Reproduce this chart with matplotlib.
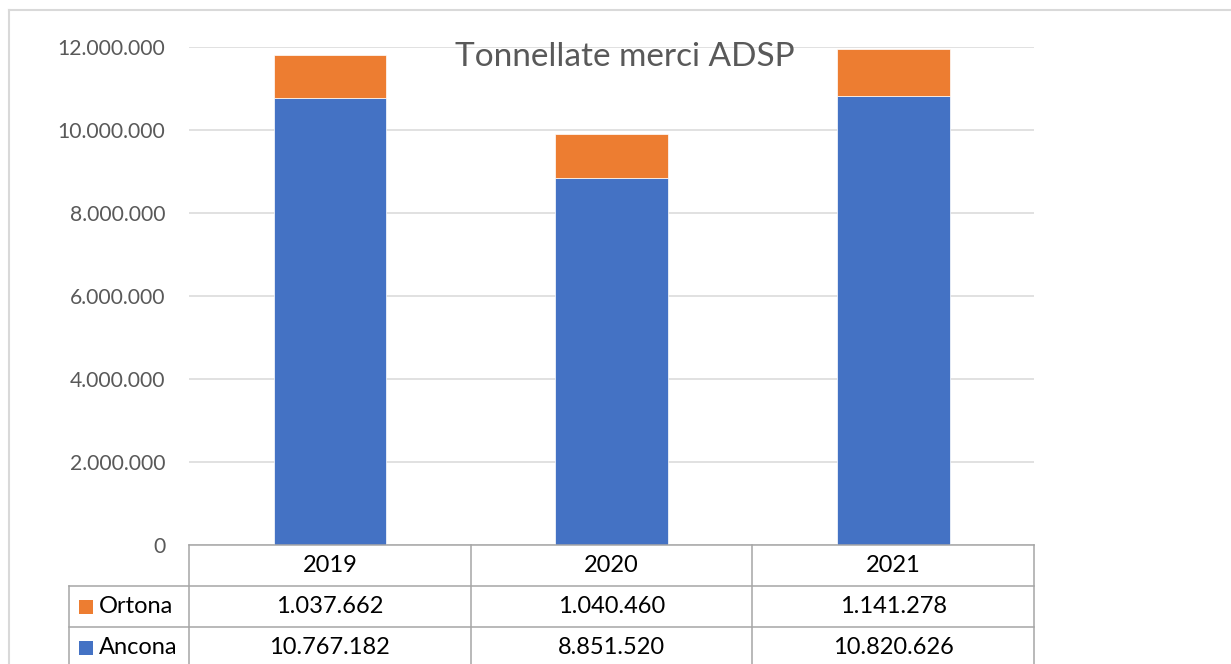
import matplotlib
matplotlib.use("Agg")
import matplotlib.pyplot as plt
from matplotlib.transforms import blended_transform_factory
from matplotlib.lines import Line2D
from matplotlib.patches import Rectangle

years = ["2019", "2020", "2021"]
series_names = ["Ortona", "Ancona"]
ortona = [1037662, 1040460, 1141278]
ancona = [10767182, 8851520, 10820626]
yticks = [0, 2000000, 4000000, 6000000, 8000000, 10000000, 12000000]
title = "Tonnellate merci ADSP"

BLUE = "#4472C4"
ORANGE = "#ED7D31"
GRID = "#d9d9d9"
TLINE = "#a6a6a6"
TXT = "#595959"

plt.rcParams['font.family'] = ['Lato', 'DejaVu Sans']

def fmt(v):
    return f"{v:,}".replace(",", ".")

W, H = 1231, 664
fig = plt.figure(figsize=(W / 100, H / 100), dpi=100)
ax = fig.add_axes([189 / W, 1 - 545 / H, (1034 - 189) / W, (545 - 47) / H])

x = list(range(len(years)))
ax.bar(x, ancona, width=0.4, color=BLUE, edgecolor="white", linewidth=0.5, zorder=3)
ax.bar(x, ortona, width=0.4, bottom=ancona, color=ORANGE, edgecolor="white", linewidth=0.5, zorder=3)

ax.set_xlim(-0.5, 2.5)
ax.set_ylim(0, 12000000)
ax.set_yticks(yticks)
ax.set_yticklabels([fmt(v) for v in yticks], fontsize=15.2, color=TXT)
ax.tick_params(axis="y", length=0, pad=17)
ax.set_xticks([])
ax.grid(axis="y", color=GRID, linewidth=1.1, zorder=0)
for s in ax.spines.values():
    s.set_visible(False)

# data table
tr = blended_transform_factory(ax.transData, ax.transAxes)
h = 41 / 498
leg_left = -0.5 - (189 - 69) / 281.67
def hline(y, x0, x1):
    ax.add_line(Line2D([x0, x1], [y, y], transform=tr, color=TLINE, lw=1.1, clip_on=False, zorder=4))
def vline(xv, y0, y1):
    ax.add_line(Line2D([xv, xv], [y0, y1], transform=tr, color=TLINE, lw=1.1, clip_on=False, zorder=4))

hline(0, -0.5, 2.5)
for k in (1, 2, 3):
    hline(-k * h, leg_left, 2.5)
for xv in (-0.5, 0.5, 1.5, 2.5):
    vline(xv, 0, -3 * h)
vline(leg_left, -h, -3 * h)

FS = 17
for i, yr in enumerate(years):
    ax.text(i, -0.5 * h, yr, transform=tr, ha="center", va="center", fontsize=FS, color="black")
    ax.text(i, -1.5 * h, fmt(ortona[i]), transform=tr, ha="center", va="center", fontsize=FS, color="black")
    ax.text(i, -2.5 * h, fmt(ancona[i]), transform=tr, ha="center", va="center", fontsize=FS, color="black")

colors = [ORANGE, BLUE]
sq = 14 / 281.67
for r, (name, c) in enumerate(zip(series_names, colors)):
    yc = -(1.5 + r) * h
    ax.add_patch(Rectangle((-0.5 - (189 - 79) / 281.67, yc - 7 / 498), sq, 14 / 498,
                           transform=tr, facecolor=c, edgecolor="none", clip_on=False, zorder=5))
    ax.text(-0.5 - (189 - 99) / 281.67, yc, name, transform=tr, ha="left", va="center",
            fontsize=FS, color="black")

fig.text(625 / W, 1 - 57 / H, title, ha="center", va="center", fontsize=24, color=TXT)

# chart frame
fig.add_artist(Line2D([9 / W, 1], [1 - 10 / H, 1 - 10 / H], transform=fig.transFigure, color=GRID, lw=1.5))
fig.add_artist(Line2D([9 / W, 9 / W], [0, 1 - 10 / H], transform=fig.transFigure, color=GRID, lw=1.5))

fig.savefig("out.png", dpi=100, facecolor="white")
